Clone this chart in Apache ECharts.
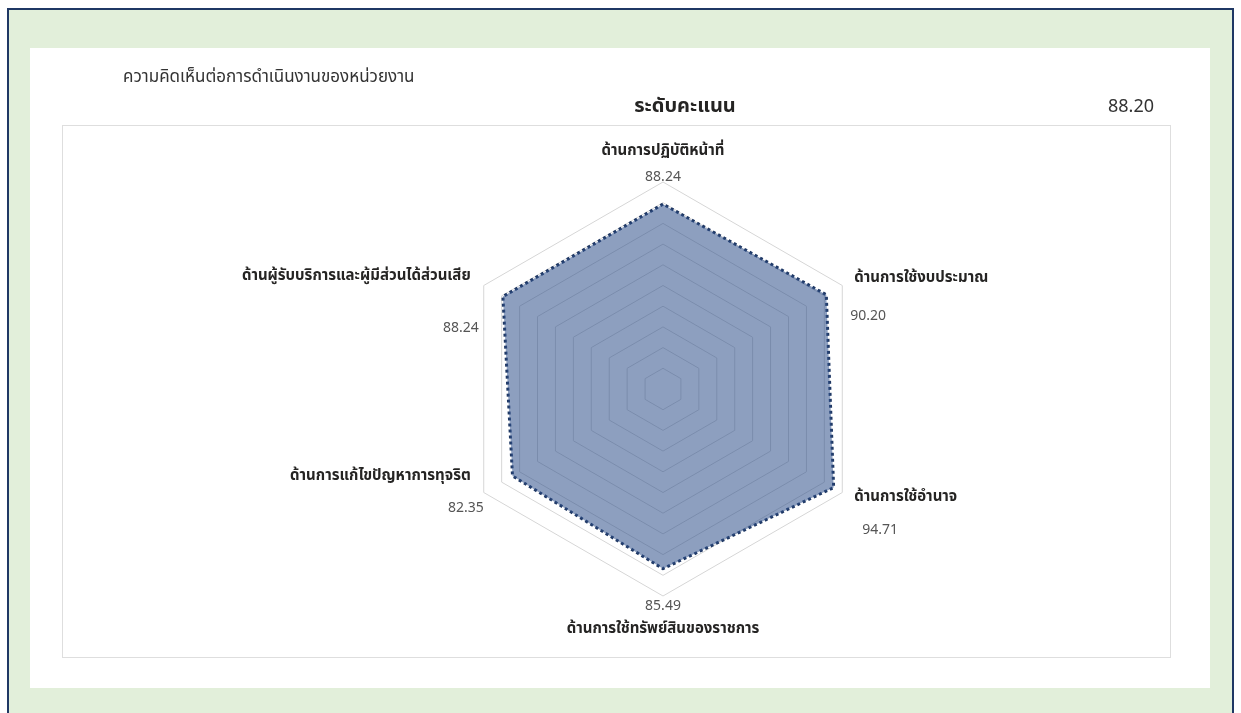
<!DOCTYPE html>
<html>
<head>
<meta charset="utf-8">
<script src="https://cdn.jsdelivr.net/npm/echarts@6/dist/echarts.min.js"></script>
<style>
  body { margin: 0; background: #fff; }
  .frame {
    position: absolute; left: 7px; top: 8px; width: 1223px; height: 720px;
    border: 2px solid #1f3864; background: #e2efda;
  }
  .panel { position: absolute; left: 30px; top: 48px; width: 1180px; height: 640px; background: #fff; }
  .box { position: absolute; left: 62px; top: 125px; width: 1107px; height: 531px; border: 1px solid #dedede; }
  #chart { position: absolute; left: 0; top: 0; width: 1241px; height: 713px; }
</style>
</head>
<body>
<div class="frame"></div>
<div class="panel"></div>
<div class="box"></div>
<div id="chart"></div>
<script>
// ลำดับตามที่ ECharts วาด (ทวนเข็มจากด้านบน)
const categories = [
  'ด้านการปฏิบัติหน้าที่',
  'ด้านผู้รับบริการและผู้มีส่วนได้ส่วนเสีย',
  'ด้านการแก้ไขปัญหาการทุจริต',
  'ด้านการใช้ทรัพย์สินของราชการ',
  'ด้านการใช้อำนาจ',
  'ด้านการใช้งบประมาณ'
]
const scores = [88.24, 88.24, 82.35, 85.49, 94.71, 90.20]
const overallScore = '88.20'
const titleText = 'ความคิดเห็นต่อการดำเนินงานของหน่วยงาน'
const subTitleText = 'ระดับคะแนน'

const FONT = 'Tahoma, "Leelawadee UI", "Noto Sans Thai", "Noto Sans", sans-serif'

const nameStyle = { fontSize: 15, fontWeight: 'bold', color: '#252423' }
const valueStyle = { fontSize: 14, color: '#555' }

// rich text per indicator to put name / value like the original
const rich = {
  n0: { ...nameStyle, lineHeight: 44 },
  v0: { ...valueStyle, lineHeight: 8 },
  s1: { fontSize: 2, lineHeight: 67 },
  n1: { ...nameStyle, lineHeight: 20, padding: [0, 13, 0, 0] },
  v1: { ...valueStyle, lineHeight: 84, padding: [0, 5, 0, 0] },
  s2: { fontSize: 2, lineHeight: 13 },
  n2: { ...nameStyle, lineHeight: 20, padding: [0, 13, 0, 0] },
  v2: { ...valueStyle, lineHeight: 44 },
  v3: { ...valueStyle, lineHeight: 22 },
  n3: { ...nameStyle, lineHeight: 24 },
  s4: { fontSize: 2, lineHeight: 57 },
  n4: { ...nameStyle, lineHeight: 20, padding: [0, 0, 0, 12] },
  v4: { ...valueStyle, lineHeight: 46, padding: [0, 0, 0, 20] },
  s5: { fontSize: 2, lineHeight: 43 },
  n5: { ...nameStyle, lineHeight: 20, padding: [0, 0, 0, 12] },
  v5: { ...valueStyle, lineHeight: 56, padding: [0, 0, 0, 8] }
}

const nameFormatter = (name) => {
  const i = categories.indexOf(name)
  const v = scores[i].toFixed(2)
  if (i === 0) return `{n0|${name}}\n{v0|${v}}`
  if (i === 3) return `{v3|${v}}\n{n3|${name}}`
  return `{s${i}| }\n{n${i}|${name}}\n{v${i}|${v}}`
}

const chart = echarts.init(document.getElementById('chart'))

chart.setOption({
  textStyle: { fontFamily: FONT },
  title: [
    {
      text: titleText,
      left: 118, top: 65,
      textStyle: { fontSize: 17, fontWeight: 'normal', color: '#333', fontFamily: FONT }
    },
    {
      text: subTitleText,
      left: 680, top: 93, textAlign: 'center',
      textStyle: { fontSize: 20, fontWeight: 'bold', color: '#252423', fontFamily: FONT }
    },
    {
      text: overallScore,
      right: 82, top: 94,
      textStyle: { fontSize: 18, fontWeight: 'normal', color: '#333', fontFamily: FONT }
    }
  ],
  radar: {
    center: [663, 389],
    radius: 207,
    startAngle: 90,
    shape: 'polygon',
    splitNumber: 10,
    axisNameGap: 0,
    indicator: categories.map(name => ({ name, min: -10, max: 100 })),
    axisName: {
      formatter: nameFormatter,
      fontFamily: FONT,
      rich
    },
    axisLine: { show: false },
    axisTick: { show: false },
    axisLabel: { show: false },
    splitArea: { show: false },
    splitLine: { lineStyle: { color: '#d6d6d6', width: 1 } }
  },
  series: [
    {
      type: 'radar',
      symbol: 'none',
      data: [{ value: scores, name: subTitleText }],
      lineStyle: { color: '#1f3864', width: 3, type: 'dotted' },
      areaStyle: { color: '#30508a', opacity: 0.55 }
    }
  ]
})
</script>
</body>
</html>
